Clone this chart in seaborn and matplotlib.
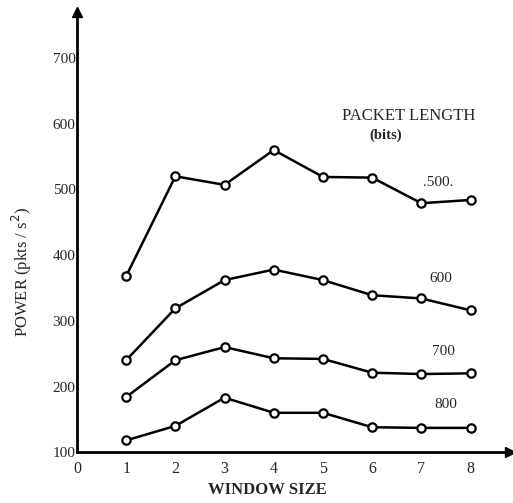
import matplotlib
matplotlib.use("Agg")
import matplotlib.pyplot as plt
import seaborn as sns
import pandas as pd

window = [1, 2, 3, 4, 5, 6, 7, 8]
p500 = [368, 520, 507, 560, 519, 518, 479, 484]
p600 = [240, 319, 362, 378, 362, 339, 334, 316]
p700 = [184, 240, 260, 243, 242, 221, 219, 220]
p800 = [118, 140, 183, 160, 160, 138, 137, 137]
series_labels = [".500.", "600", "700", "800"]
label_pos_x = [7.35, 7.4, 7.45, 7.5]
label_pos_y = [500, 354, 243, 162]
xticks = [0, 1, 2, 3, 4, 5, 6, 7, 8]
yticks = [100, 200, 300, 400, 500, 600, 700]

sns.set_style("white")
plt.rcParams['font.family'] = ['Liberation Serif', 'DejaVu Serif']

rows = []
for lab, vals in zip(series_labels, [p500, p600, p700, p800]):
    for w, v in zip(window, vals):
        rows.append({"window": w, "power": v, "series": lab})
df = pd.DataFrame(rows)

fig = plt.figure(figsize=(5.13, 5.03), dpi=100)
ax = fig.add_axes([0.150, 0.101, 0.844, 0.875])

for lab in series_labels:
    sub = df[df["series"] == lab]
    sns.lineplot(data=sub, x="window", y="power", ax=ax, color="black",
                 linewidth=1.8, marker="o", markersize=6,
                 markerfacecolor="white", markeredgecolor="black",
                 markeredgewidth=1.6, legend=False)

for lab, lx, ly in zip(series_labels, label_pos_x, label_pos_y):
    ax.text(lx, ly, lab, fontsize=11, ha="center", va="bottom")

ax.text(6.75, 612, "PACKET LENGTH", fontsize=12, ha="center", va="center")
ax.text(6.28, 583, "(bits)", fontsize=10.5, ha="center", va="center", fontweight="bold")

ax.set_xlim(0, 8.8)
ax.set_ylim(100, 770)
ax.set_xticks(xticks)
ax.set_yticks(yticks)
ax.set_xticklabels([str(t) for t in xticks], fontsize=11.5)
ax.set_yticklabels([str(t) for t in yticks], fontsize=11)
ax.tick_params(axis="both", direction="in", length=5, width=1.5, color="black")
ax.tick_params(axis="x", pad=6)
ax.tick_params(axis="y", pad=1)

for s in ["top", "right"]:
    ax.spines[s].set_visible(False)
for s in ["left", "bottom"]:
    ax.spines[s].set_linewidth(2)
    ax.spines[s].set_color("black")

ax.plot(1, 0, ">k", markersize=7, transform=ax.transAxes, clip_on=False)
ax.plot(0, 1, "^k", markersize=7, transform=ax.transAxes, clip_on=False)

ax.set_xlabel("WINDOW SIZE", fontsize=12, fontweight="bold")
ax.set_ylabel("POWER (pkts / s$^2$)", fontsize=12)
ax.xaxis.label.set_va("center")
ax.xaxis.set_label_coords(0.44, -0.086)
ax.yaxis.label.set_va("center")
ax.yaxis.set_label_coords(-0.127, 0.41)

fig.savefig("out.png", dpi=100)
